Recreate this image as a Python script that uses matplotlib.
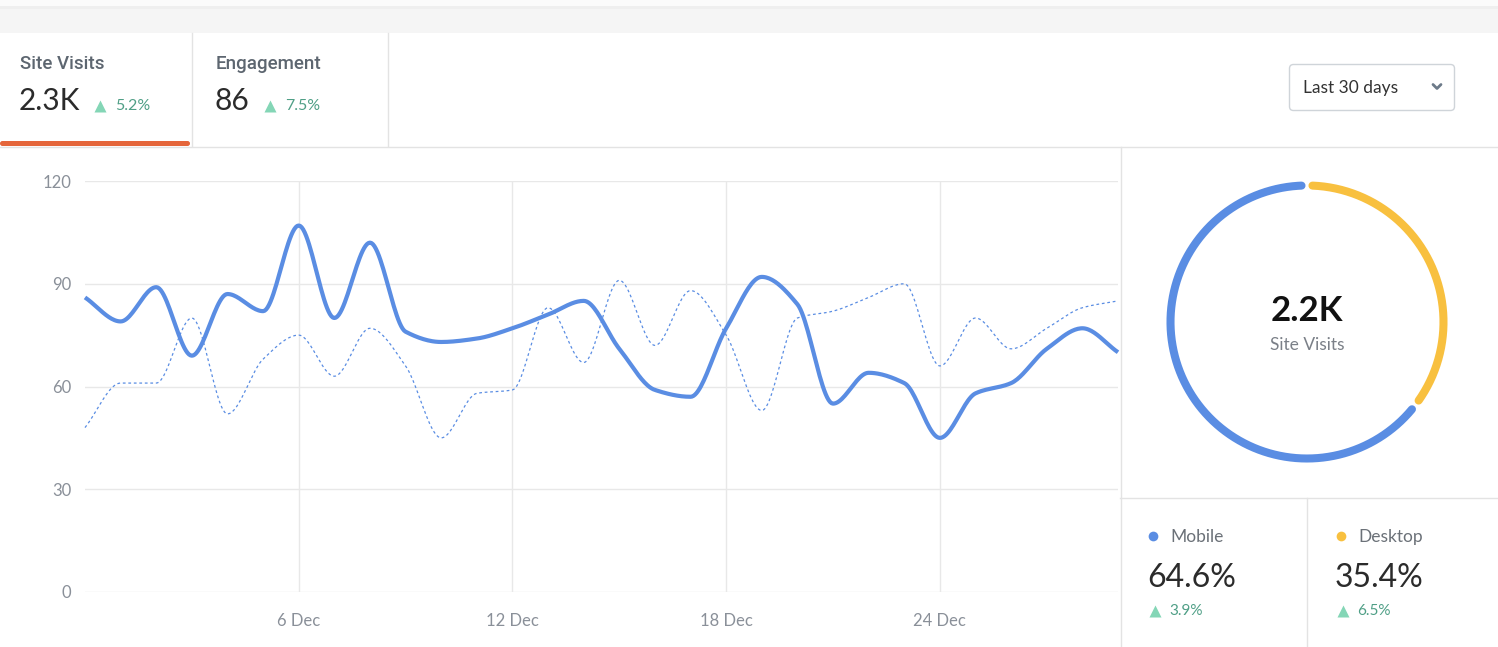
import numpy as np
import matplotlib
matplotlib.use("Agg")
import matplotlib.pyplot as plt
from matplotlib.patches import Rectangle, FancyBboxPatch

plt.rcParams['font.family'] = ['Lato', 'DejaVu Sans']

# ---- data ----
days = list(range(30))
tick_days = [6, 12, 18, 24]
tick_labels = ['6 Dec', '12 Dec', '18 Dec', '24 Dec']
y_ticks = [0, 30, 60, 90, 120]

visits_current = [86, 79, 89, 69, 87, 82, 107, 80, 102, 76, 73, 74, 77, 81, 85,
                  71, 59, 57, 77, 92, 84, 55, 64, 61, 45, 58, 61, 71, 77, 70]
visits_previous = [48, 61, 61, 80, 52, 68, 75, 63, 77, 66, 45, 58, 59, 83, 67,
                   91, 72, 88, 75, 53, 80, 82, 86, 90, 66, 80, 71, 77, 83, 85]

tab_labels = ['Site Visits', 'Engagement']
tab_values = ['2.3K', '86']
tab_changes = ['5.2%', '7.5%']

device_labels = ['Mobile', 'Desktop']
device_share = [64.6, 35.4]
device_changes = ['3.9%', '6.5%']
donut_total = '2.2K'

BLUE = '#5a8de3'
YELLOW = '#f8c03f'
ORANGE = '#e5663b'
GREEN_TRI = '#84d6b6'
GREEN_TXT = '#4f9f86'
DARK = '#2b2b2b'
LINE = '#e3e3e3'

W, H = 1498, 647


def monotone(x, y, n=24):
    # monotone cubic (Fritsch-Butland) used only to draw the smooth curve
    x = np.asarray(x, float)
    y = np.asarray(y, float)
    h = np.diff(x)
    d = np.diff(y) / h
    m = np.zeros_like(y)
    m[0], m[-1] = d[0], d[-1]
    for i in range(1, len(y) - 1):
        if d[i - 1] * d[i] > 0:
            m[i] = 2.0 / (1.0 / d[i - 1] + 1.0 / d[i])
    xs, ys = [], []
    t = np.linspace(0, 1, n, endpoint=False)
    h00 = 2 * t**3 - 3 * t**2 + 1
    h10 = t**3 - 2 * t**2 + t
    h01 = -2 * t**3 + 3 * t**2
    h11 = t**3 - t**2
    for i in range(len(x) - 1):
        xs.append(x[i] + t * h[i])
        ys.append(h00 * y[i] + h10 * h[i] * m[i] + h01 * y[i + 1] + h11 * h[i] * m[i + 1])
    xs.append([x[-1]])
    ys.append([y[-1]])
    return np.concatenate(xs), np.concatenate(ys)


fig = plt.figure(figsize=(W / 100, H / 100), dpi=100)
fig.patch.set_facecolor('white')

# overlay in pixel coordinates for the dashboard frame
ov = fig.add_axes([0, 0, 1, 1], zorder=0)
ov.set_xlim(0, W)
ov.set_ylim(H, 0)
ov.axis('off')

ov.add_patch(Rectangle((0, 0), W, 6, color='#fbfbfb', lw=0))
ov.add_patch(Rectangle((0, 6), W, 3, color='#efefef', lw=0))
ov.add_patch(Rectangle((0, 9), W, 24, color='#f5f5f5', lw=0))

# frame lines
ov.plot([0, W], [146.5, 146.5], color=LINE, lw=1)
ov.plot([191.5, 191.5], [33, 146], color=LINE, lw=1)
ov.plot([387.5, 387.5], [33, 146], color=LINE, lw=1)
ov.plot([1120.5, 1120.5], [147, H], color=LINE, lw=1)
ov.plot([1120, W], [497.5, 497.5], color=LINE, lw=1)
ov.plot([1306.5, 1306.5], [498, H], color=LINE, lw=1)

# active tab underline
ov.add_patch(FancyBboxPatch((0, 141), 190, 5, boxstyle='round,pad=0,rounding_size=2.5',
                            fc=ORANGE, ec='none'))

# tabs
tab_x = [20, 216]
for i, lab in enumerate(tab_labels):
    x0 = tab_x[i]
    ov.text(x0, 64, lab, fontsize=13.5, color='#5d6670', va='center', ha='left',
            family=['Roboto', 'DejaVu Sans'], fontweight='medium')
    val = ov.text(x0 - 1, 101, tab_values[i], fontsize=21.5, color=DARK, va='center', ha='left')
    fig.canvas.draw()
    bb = val.get_window_extent()
    tri_x = bb.x1 + 20
    ov.plot(tri_x, 106, marker='^', ms=8.5, color=GREEN_TRI, mec='none')
    ov.text(tri_x + 15, 106, tab_changes[i], fontsize=11.5, color=GREEN_TXT, va='center', ha='left')

# dropdown
ov.add_patch(FancyBboxPatch((1289.5, 64.5), 165, 46, boxstyle='round,pad=0,rounding_size=4',
                            fc='white', ec='#cfd4d9', lw=1))
ov.text(1303, 88, 'Last 30 days', fontsize=12.5, color='#333333', va='center', ha='left')
ov.plot([1433, 1437, 1441], [84.5, 88.5, 84.5], color='#6c7a89', lw=2, solid_capstyle='round')

# ---- line chart ----
ax = fig.add_axes([85 / W, 1 - 592 / H, (1118 - 85) / W, (592 - 181) / H], zorder=2)
ax.patch.set_alpha(0)
ax.set_xlim(0, 29)
ax.set_ylim(0, 120)
ax.set_yticks(y_ticks)
ax.set_xticks(tick_days, tick_labels)
ax.grid(True, color='#e8e8e8', lw=1)
ax.set_axisbelow(True)
for s in ax.spines.values():
    s.set_visible(False)
ax.tick_params(length=0, labelsize=12, colors='#8a9099')
ax.tick_params(axis='y', pad=10)
ax.tick_params(axis='x', pad=15)

px, py = monotone(days, visits_previous)
ax.plot(px, py, color=BLUE, lw=0.9, ls=(0, (2.2, 2.2)), clip_on=False)
cx, cy = monotone(days, visits_current)
ax.plot(cx, cy, color=BLUE, lw=3.0, solid_capstyle='butt', solid_joinstyle='round', clip_on=False)

# ---- donut ----
R = 150
dax = fig.add_axes([(1307 - R) / W, (H - 322 - R) / H, 2 * R / W, 2 * R / H], zorder=2)
dax.set_xlim(-R, R)
dax.set_ylim(-R, R)
dax.axis('off')
r = 136.5
colors = [BLUE, YELLOW]
# desktop starts at 12 o'clock going clockwise, mobile fills the rest
start = 90.0
angles = []
a = start
for share in device_share[::-1]:
    span = share / 100 * 360
    angles.append((a, a - span))
    a -= span
for (a0, a1), col in zip(angles, colors[::-1]):
    th = np.radians(np.linspace(a0 - 2.3, a1 + 2.3, 300))
    dax.plot(r * np.cos(th), r * np.sin(th), color=col, lw=5.8, solid_capstyle='round')
dax.text(0, 11, donut_total, fontsize=25, fontweight='bold', color='#111111', ha='center', va='center')
dax.text(0, -23, 'Site Visits', fontsize=12.5, color='#7b8088', ha='center', va='center')

# ---- device legend ----
leg_x = [1148, 1336]
for i, lab in enumerate(device_labels):
    x0 = leg_x[i]
    ov.plot(x0 + 5, 536, marker='o', ms=7, color=colors[i], mec='none')
    ov.text(x0 + 22, 537, lab, fontsize=12.5, color='#6b7178', va='center', ha='left')
    ov.text(x0 - 1, 578, f'{device_share[i]}%', fontsize=23, color=DARK, va='center', ha='left')
    ov.plot(x0 + 7, 611, marker='^', ms=8, color=GREEN_TRI, mec='none')
    ov.text(x0 + 21, 611, device_changes[i], fontsize=11, color=GREEN_TXT, va='center', ha='left')

fig.savefig('out.png', dpi=100, facecolor='white')
